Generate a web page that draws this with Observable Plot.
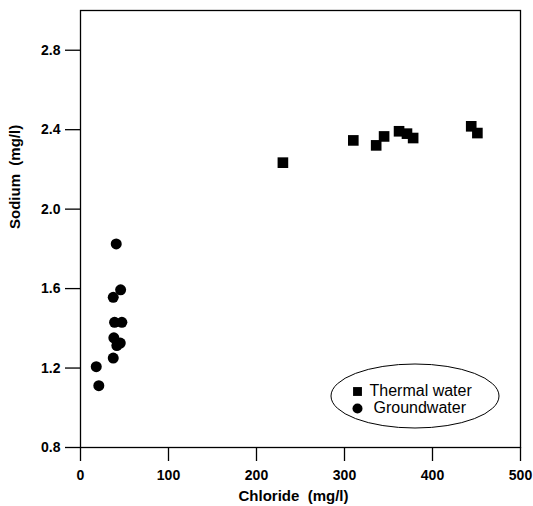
<!DOCTYPE html>
<html>
<head>
<meta charset="utf-8">
<script src="https://cdn.jsdelivr.net/npm/d3@7"></script>
<script src="https://cdn.jsdelivr.net/npm/@observablehq/plot@0.6"></script>
<style>
  html, body { margin: 0; padding: 0; background: #fff; }
  svg { display: block; }
</style>
</head>
<body>
<div id="chart"></div>
<script>
const thermalChloride = [230, 310, 336, 345, 362, 371, 378, 444, 451];
const thermalSodium   = [2.234, 2.346, 2.321, 2.366, 2.392, 2.38, 2.358, 2.417, 2.383];
const groundChloride  = [40.6, 45.6, 37.2, 38.7, 47, 37.9, 45.2, 41.3, 37.2, 17.9, 20.8];
const groundSodium    = [1.825, 1.594, 1.556, 1.43, 1.43, 1.352, 1.326, 1.313, 1.25, 1.207, 1.111];
const xTicks = [0, 100, 200, 300, 400, 500];
const yTicks = [0.8, 1.2, 1.6, 2.0, 2.4, 2.8];
const legendLabels = ["Thermal water", "Groundwater"];
const xTitle = "Chloride  (mg/l)";
const yTitle = "Sodium  (mg/l)";

const thermal = thermalChloride.map((c, i) => ({c, na: thermalSodium[i]}));
const ground = groundChloride.map((c, i) => ({c, na: groundSodium[i]}));

const font = "'Liberation Sans', Arial, sans-serif";

function ellipseMark(index, scales, values, dim) {
  const cx = dim.width - dim.marginRight - 105;
  const cy = dim.height - dim.marginBottom - 51;
  const el = d3.create("svg:ellipse")
    .attr("cx", cx).attr("cy", cy)
    .attr("rx", 84).attr("ry", 32)
    .attr("fill", "none").attr("stroke", "#000").attr("stroke-width", 1);
  return el.node();
}

const chart = Plot.plot({
  width: 533,
  height: 506,
  marginLeft: 80,
  marginRight: 13,
  marginTop: 10,
  marginBottom: 59,
  style: {fontFamily: font, fontSize: "14px", color: "#000", background: "#fff"},
  x: {domain: [0, 500], ticks: xTicks, label: null},
  y: {domain: [0.8, 3.0], ticks: yTicks, label: null, tickFormat: d3.format(".1f")},
  marks: [
    Plot.frame({stroke: "#000", strokeWidth: 1.3}),
    Plot.axisX({ticks: xTicks, tickSize: 14, tickPadding: 9, fontWeight: "bold", fontSize: 14, stroke: "#000", strokeWidth: 1.3}),
    Plot.axisY({ticks: yTicks, tickSize: 15, tickPadding: 5, fontWeight: "bold", fontSize: 14, stroke: "#000", strokeWidth: 1.3, tickFormat: d3.format(".1f")}),
    Plot.text([xTitle], {frameAnchor: "bottom", lineAnchor: "middle", dx: -7, dy: 49, fontWeight: "bold", fontSize: 15, fill: "#000"}),
    Plot.text([yTitle], {frameAnchor: "left", lineAnchor: "middle", dx: -65, rotate: -90, fontWeight: "bold", fontSize: 15, fill: "#000"}),
    Plot.dot(thermal, {x: "c", y: "na", symbol: "square", r: 6, fill: "#000", stroke: "none"}),
    Plot.dot(ground, {x: "c", y: "na", symbol: "circle", r: 5.5, fill: "#000", stroke: "none"}),
    ellipseMark,
    Plot.dot([0], {frameAnchor: "bottom-right", dx: -163, dy: -56, symbol: "square", r: 5, fill: "#000", stroke: "none"}),
    Plot.dot([0], {frameAnchor: "bottom-right", dx: -163, dy: -39, symbol: "circle", r: 5, fill: "#000", stroke: "none"}),
    Plot.text([legendLabels[0]], {frameAnchor: "bottom-right", lineAnchor: "middle", dx: -151, dy: -57, textAnchor: "start", fontSize: 16, fill: "#000"}),
    Plot.text([legendLabels[1]], {frameAnchor: "bottom-right", lineAnchor: "middle", dx: -147, dy: -40, textAnchor: "start", fontSize: 16, fill: "#000"})
  ]
});
document.getElementById("chart").appendChild(chart);
</script>
</body>
</html>
